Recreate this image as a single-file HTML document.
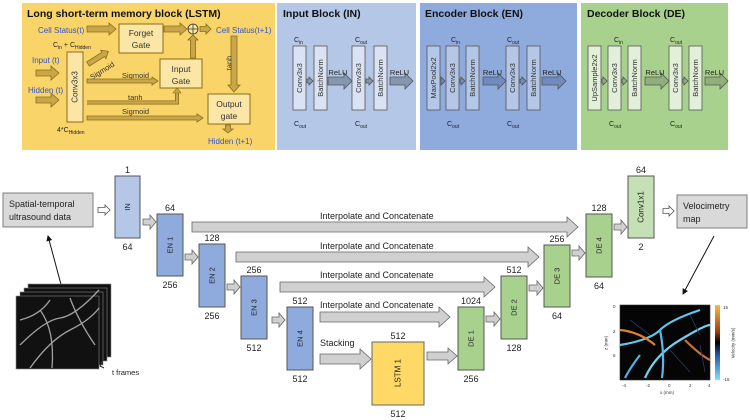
<!DOCTYPE html>
<html><head><meta charset="utf-8"><style>
html,body{margin:0;padding:0;background:#fff;}
svg{display:block;font-family:"Liberation Sans",sans-serif;}
</style></head><body>
<svg id="s" width="750" height="420" viewBox="0 0 750 420" xmlns="http://www.w3.org/2000/svg"></svg>
<script>
var o='';
function R(x,y,w,h,f,s,sw){o+='<rect x="'+x+'" y="'+y+'" width="'+w+'" height="'+h+'" fill="'+f+'" stroke="'+(s||'none')+'" stroke-width="'+(sw||1)+'"/>';}
function T(x,y,t,sz,c,a,b){o+='<text x="'+x+'" y="'+y+'" font-size="'+sz+'" fill="'+(c||'#222')+'"'+(a?' text-anchor="'+a+'"':'')+(b?' font-weight="bold"':'')+'>'+t+'</text>';}
function VT(cx,cy,t,sz,c){o+='<text x="'+cx+'" y="'+cy+'" font-size="'+sz+'" fill="'+(c||'#222')+'" text-anchor="middle" dominant-baseline="central" transform="rotate(-90 '+cx+' '+cy+')">'+t+'</text>';}
function A(x1,x2,cy,h,H,L,f,s){o+='<polygon points="'+x1+','+(cy-h)+' '+(x2-L)+','+(cy-h)+' '+(x2-L)+','+(cy-H)+' '+x2+','+cy+' '+(x2-L)+','+(cy+H)+' '+(x2-L)+','+(cy+h)+' '+x1+','+(cy+h)+'" fill="'+f+'" stroke="'+(s||'#666')+'" stroke-width="0.8"/>';}
function AV(cx,y1,y2,h,H,L,f,s){
 var d=y2>y1?1:-1;o+='<polygon points="'+(cx-h)+','+y1+' '+(cx-h)+','+(y2-d*L)+' '+(cx-H)+','+(y2-d*L)+' '+cx+','+y2+' '+(cx+H)+','+(y2-d*L)+' '+(cx+h)+','+(y2-d*L)+' '+(cx+h)+','+y1+'" fill="'+f+'" stroke="'+(s||'#666')+'" stroke-width="0.8"/>';}
R(22,3,253,147,'#f9d468');R(277,3,139,147,'#b4c7e7');R(420,3,157,147,'#8faadc');R(581,3,147,147,'#a9d18e');
var lf='#c9a64a';
T(27,17,'Long short-term memory block (LSTM)',10.5,'#111',0,1);
T(38,33,'Cell Status(t)',8,'#3355cc');
A(87,116,29,3,6,7,lf,'#8a6d1a');
R(119,24,44,29,'#fbe6a6','#8a6d1a');T(141,36,'Forget',8.5,'#333','middle');T(141,48,'Gate',8.5,'#333','middle');
A(164,187,29,3,6,7,lf,'#8a6d1a');
o+='<circle cx="193" cy="29" r="5" fill="#fbe6a6" stroke="#333" stroke-width="0.8"/><path d="M188 29h10M193 24v10" stroke="#333" stroke-width="0.8"/>';
A(200,211,29,2.5,5,5,lf,'#8a6d1a');
T(216,33,'Cell Status(t+1)',8,'#3355cc');
T(53,47,'C<tspan font-size="5" dy="2">in</tspan><tspan dy="-2"> + C</tspan><tspan font-size="5" dy="2">Hidden</tspan>',7,'#222');
R(67,52,16,70,'#fbe6a6','#8a6d1a');VT(75,87,'Conv3x3',8,'#333');
T(32,63,'Input (t)',8,'#3355cc');A(36,59,73,3,7,8,lf,'#8a6d1a');
T(28,93,'Hidden (t)',8,'#3355cc');A(36,59,100,3,7,8,lf,'#8a6d1a');
o+='<g transform="rotate(-32 88 64)">';A(88,112,64,2.5,5,6,lf,'#8a6d1a');o+='</g>';
o+='<text x="92" y="80" font-size="7.5" fill="#333" transform="rotate(-32 92 80)">Sigmoid</text>';
R(160,59,42,29,'#fbe6a6','#8a6d1a');T(181,72,'Input',8.5,'#333','middle');T(181,84,'Gate',8.5,'#333','middle');
T(122,78,'Sigmoid',7.5,'#333');A(87,158,81,2,4,6,lf,'#8a6d1a');
T(128,100,'tanh',7.5,'#333');o+='<path d="M87 102.5H177V92" fill="none" stroke="#8a6d1a" stroke-width="4"/><path d="M87 102.5H177V92" fill="none" stroke="'+lf+'" stroke-width="2.4"/><polygon points="173,93 181,93 177,88" fill="'+lf+'" stroke="#8a6d1a" stroke-width="0.6"/>';
T(122,114,'Sigmoid',7.5,'#333');A(87,203,118,2,4,6,lf,'#8a6d1a');
AV(193,58,35,2.5,5,5,lf,'#8a6d1a');
AV(234,36,92,3,6,7,lf,'#8a6d1a');VT(229,63,'tanh',7.5,'#333');
R(208,94,42,30,'#fbe6a6','#8a6d1a');T(229,107,'Output',8.5,'#333','middle');T(229,119,'gate',8.5,'#333','middle');
AV(228,125,133,2.5,5,4,lf,'#8a6d1a');
T(208,144,'Hidden (t+1)',8,'#3355cc');
T(57,132,'4*C<tspan font-size="5" dy="2">Hidden</tspan>',7,'#222');
function block(title,tx,boxes,arrows,bf,af,labs){
 T(tx,17,title,10.5,'#111',0,1);
 boxes.forEach(function(b){R(b[0],46,13,64,bf,'#555',0.8);VT(b[0]+6.5,78,b[1],7.5,'#333');});
 arrows.forEach(function(a){ if(a[2]){A(a[0],a[1],81,4,8,8,af,'#555');T((a[0]+a[1])/2-2,75,'ReLU',7.5,'#222','middle');} else A(a[0],a[1],81,2,4,4,af,'#555');});
 labs.forEach(function(l){T(l[0],l[1],'C<tspan font-size="5" dy="2">'+l[2]+'</tspan>',7,'#222');});
}
block('Input Block (IN)',283,[[293,'Conv3x3'],[314,'BatchNorm'],[352,'Conv3x3'],[374,'BatchNorm']],[[307,313],[328,352,1],[366,373],[390,413,1]],'#dae3f3','#8497b0',[[294,42,'in'],[294,126,'out'],[355,42,'out'],[355,126,'out']]);
block('Encoder Block (EN)',425,[[427,'MaxPool2x2'],[446,'Conv3x3'],[466,'BatchNorm'],[506,'Conv3x3'],[527,'BatchNorm']],[[441,445],[460,465],[483,506,1],[520,526],[542,566,1]],'#b4c7e7','#6f8bbf',[[451,42,'in'],[447,126,'out'],[507,42,'out'],[507,126,'out']]);
block('Decoder Block (DE)',587,[[588,'UpSample2x2'],[608,'Conv3x3'],[628,'BatchNorm'],[669,'Conv3x3'],[689,'BatchNorm']],[[602,607],[622,627],[645,669,1],[683,688],[705,728,1]],'#e2f0d9','#8fb07a',[[614,42,'in'],[609,126,'out'],[670,42,'out'],[670,126,'out']]);
var g='#d0d0d0',gs='#666';
R(3,193,90,34,'#d9d9d9','#7f7f7f');T(9,207,'Spatial-temporal',9,'#222');T(9,220,'ultrasound data',9,'#222');
A(98,110,210,2.5,5,5,'#fff','#555');
function N(x,y,w,h,f,t,top,bot,tsz){R(x,y,w,h,f,'#555',1);VT(x+w/2,y+h/2,t,tsz||7.5,'#222');T(x+w/2,y-3,top,9,'#222','middle');T(x+w/2,y+h+12,bot,9,'#222','middle');}
N(115,176,25,62,'#b4c7e7','IN','1','64');
A(143,156,222,3,7,6,g,gs);
N(157,214,26,62,'#8faadc','EN 1','64','256');
A(185,198,257,3,7,6,g,gs);
N(199,244,26,63,'#8faadc','EN 2','128','256');
A(227,240,287,3,7,6,g,gs);
N(241,276,26,63,'#8faadc','EN 3','256','512');
A(272,285,320,3,7,6,g,gs);
N(287,307,26,63,'#8faadc','EN 4','512','512');
A(192,578,227,5,10,11,g,gs);T(320,219,'Interpolate and Concatenate',9,'#222');
A(236,539,257,5,10,11,g,gs);T(320,249,'Interpolate and Concatenate',9,'#222');
A(280,495,287,5,10,11,g,gs);T(320,278,'Interpolate and Concatenate',9,'#222');
A(320,450,317,5,10,11,g,gs);T(320,308,'Interpolate and Concatenate',9,'#222');
A(320,371,359,5,10,11,g,gs);T(320,346,'Stacking',9,'#222');
R(372,342,52,63,'#ffd966','#666',1);VT(398,373,'LSTM 1',8,'#222');T(398,339,'512',9,'#222','middle');T(398,417,'512',9,'#222','middle');
A(427,457,356,4,8,9,g,gs);
N(458,307,26,63,'#a9d18e','DE 1','1024','256');
A(486,500,319,3,7,6,g,gs);
N(501,276,26,63,'#a9d18e','DE 2','512','128');
A(529,543,288,3,7,6,g,gs);
N(544,245,26,62,'#a9d18e','DE 3','256','64');
A(572,585,253,3,7,6,g,gs);
N(586,214,26,63,'#a9d18e','DE 4','128','64');
A(614,627,227,3,7,6,g,gs);
N(628,176,26,62,'#c5e0b4','Conv1x1','64','2',8);
A(663,674,211,2.5,5,5,'#fff','#555');
R(677,195,70,33,'#d9d9d9','#7f7f7f');T(683,209,'Velocimetry',9,'#222');T(683,222,'map',9,'#222');
o+='<defs><marker id="m" markerWidth="6" markerHeight="6" refX="5" refY="3" orient="auto"><path d="M0,0L6,3L0,6z" fill="#111"/></marker></defs>';
o+='<line x1="63" y1="292" x2="48" y2="236" stroke="#111" stroke-width="1" marker-end="url(#m)"/>';
o+='<line x1="714" y1="236" x2="683" y2="294" stroke="#111" stroke-width="1" marker-end="url(#m)"/>';
for(var i=3;i>=0;i--){R(16+i*4,296-i*4,83,73,'#111','#888',0.6);}
o+='<g stroke="#bbb" fill="none" stroke-width="1.3" opacity="0.85"><path d="M20 345 Q45 320 60 318 T99 290"/><path d="M30 368 Q50 340 70 330 T99 308"/><path d="M40 310 Q55 330 52 368"/><path d="M70 298 Q78 320 95 345"/><path d="M20 320 Q40 315 50 300"/></g>';
o+='<path d="M103 360 l-3 6 l4 2" stroke="#333" fill="none"/>';T(112,375,'t frames',7.5,'#222');
R(620,305,90,75,'#050505','#333',0.6);
o+='<g fill="none" stroke-width="2.2"><path d="M620 345 Q650 340 660 330 T700 310" stroke="#60c8f0"/><path d="M645 378 Q655 355 680 340 T710 325" stroke="#70d0f0"/><path d="M620 330 Q640 332 655 345" stroke="#e08030"/><path d="M660 330 Q665 355 662 378" stroke="#5ab8e8"/><path d="M685 340 Q700 355 710 360" stroke="#d07030"/><path d="M640 355 Q630 368 625 378" stroke="#50b0e0"/></g>';
o+='<g fill="none" stroke="#2a3a66" stroke-width="0.8"><path d="M630 320 L650 335 M690 315 L700 335 M670 350 L690 372 M700 345 L705 372"/></g>';
o+='<defs><linearGradient id="cb" x1="0" y1="0" x2="0" y2="1"><stop offset="0" stop-color="#f5c040"/><stop offset="0.35" stop-color="#a04010"/><stop offset="0.5" stop-color="#000"/><stop offset="0.65" stop-color="#2050a0"/><stop offset="1" stop-color="#80e0ff"/></linearGradient></defs>';
R(715,305,5,75,'url(#cb)');
T(723,309,'15',4.5,'#333');T(723,381,'-15',4.5,'#333');VT(733,343,'Velocity (mm/s)',4.5,'#333');
T(613,308,'0',4.5,'#333');T(613,333,'2',4.5,'#333');T(613,357,'6',4.5,'#333');VT(606,343,'z (mm)',4.5,'#333');
T(622,387,'-4',4.5,'#333');T(646,387,'-2',4.5,'#333');T(668,387,'0',4.5,'#333');T(689,387,'2',4.5,'#333');T(708,387,'4',4.5,'#333');T(660,394,'x (mm)',4.5,'#333');
document.getElementById('s').innerHTML=o;
</script>
</body></html>
